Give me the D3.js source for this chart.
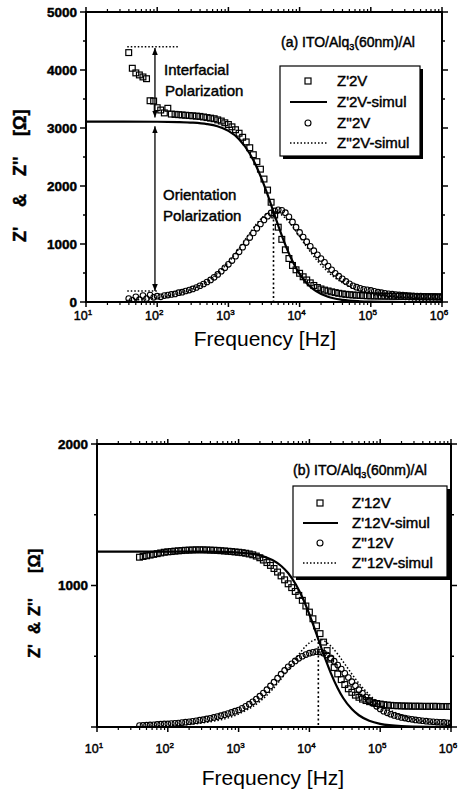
<!DOCTYPE html>
<html>
<head>
<meta charset="utf-8">
<script src="https://cdn.jsdelivr.net/npm/d3@7"></script>
<style>
body { margin: 0; background: #fff; }
svg text { font-family: "Liberation Sans", Arial, Helvetica, sans-serif; fill: #000; }
.thick { stroke: #000; stroke-width: 0.45px; }
</style>
</head>
<body>
<script>
// measured frequency grid (Hz), shared by both panels
var freqMeas = [39.8, 44.7, 50.1, 56.2, 63.1, 70.8, 79.4, 89.1,
  100, 112, 126, 141, 158, 178, 200, 224, 251, 282, 316, 355, 398, 447, 501, 562, 631, 708, 794, 891,
  1000, 1122, 1259, 1413, 1585, 1778, 1995, 2239, 2512, 2818, 3162, 3548, 3981, 4467, 5012, 5623, 6310, 7079, 7943, 8913,
  1e4, 11220, 12589, 14125, 15849, 17783, 19953, 22387, 25119, 28184, 31623, 35481, 39811, 44668, 50119, 56234, 63096, 70795, 79433, 89125,
  1.00e5, 1.12e5, 1.26e5, 1.41e5, 1.58e5, 1.78e5, 2.00e5, 2.24e5, 2.51e5, 2.82e5, 3.16e5, 3.55e5, 3.98e5, 4.47e5, 5.01e5, 5.62e5, 6.31e5, 7.08e5, 7.94e5, 8.91e5, 1e6];

// panel (a) 2V measured
var zReA = [4300, 4030, 3950, 3915, 3880, 3850, 3470, 3465,
  3350, 3310, 3260, 3340, 3240, 3235, 3230, 3225, 3220, 3215, 3210, 3205, 3200, 3190, 3180, 3170, 3160, 3140, 3120, 3090,
  3060, 3020, 2970, 2910, 2840, 2760, 2660, 2540, 2420, 2290, 2120, 1930, 1720, 1500, 1290, 1080, 900, 750, 630, 555,
  495, 435, 380, 330, 285, 250, 225, 205, 190, 175, 162, 150, 140, 132, 126, 121, 117, 113, 110, 107,
  105, 104, 103, 102, 101, 100, 99, 98, 97, 96, 95, 94, 93, 92, 92, 91, 90, 90, 89, 88, 88];
var zImA = [60, 30, 90, 40, 110, 60, 120, 80,
  100, 90, 110, 120, 130, 140, 160, 170, 190, 205, 225, 250, 280, 310, 345, 380, 425, 475, 530, 590,
  650, 715, 790, 865, 945, 1025, 1110, 1190, 1270, 1345, 1415, 1480, 1535, 1570, 1590, 1580, 1540, 1470, 1380, 1290,
  1200, 1120, 1040, 960, 885, 815, 750, 685, 620, 555, 495, 445, 400, 355, 315, 280, 255, 235, 220, 210,
  200, 185, 170, 160, 150, 142, 135, 128, 122, 118, 115, 110, 106, 103, 100, 97, 95, 93, 91, 90, 88];

// panel (a) simulation
var simFreqReA = [10, 100, 200, 316, 500, 700, 1000, 1400, 2000, 2500, 3000, 3500, 4300, 5000, 6000, 7000, 8500, 1e4, 1.3e4, 1.7e4, 2.5e4, 4e4, 7e4, 1e5, 2e5, 5e5, 1e6];
var simReA = [3110, 3108, 3103, 3093, 3068, 3030, 2950, 2812, 2557, 2324, 2092, 1871, 1555, 1322, 1055, 852, 634, 485, 307, 187, 89, 36, 12, 6, 2, 0, 0];
var simFreqImA = [38, 60, 100, 150, 200, 300, 500, 700, 1000, 1400, 2000, 2500, 3000, 3500, 4300, 5000, 6000, 7000, 8500, 1e4, 1.3e4, 1.7e4, 2.5e4, 4e4, 7e4, 1e5, 2e5, 5e5, 1e6];
var simImA = [27, 43, 72, 108, 144, 216, 357, 493, 686, 915, 1189, 1351, 1460, 1523, 1555, 1538, 1472, 1387, 1253, 1129, 927, 739, 520, 331, 190, 133, 67, 27, 13];

// panel (b) 12V measured
var zReB = [1200, 1205, 1210, 1215, 1220, 1225, 1230, 1235,
  1238, 1240, 1243, 1245, 1247, 1249, 1250, 1251, 1252, 1252, 1252, 1251, 1250, 1249, 1248, 1246, 1244, 1242, 1240, 1237,
  1235, 1232, 1228, 1223, 1217, 1208, 1196, 1180, 1162, 1142, 1120, 1095, 1068, 1040, 1012, 985, 958, 930, 895, 855,
  812, 765, 715, 660, 600, 540, 480, 420, 375, 335, 300, 270, 245, 225, 210, 197, 187, 179, 172, 166,
  162, 158, 155, 153, 151, 150, 149, 148, 148, 147, 147, 147, 146, 146, 146, 146, 146, 145, 145, 145, 145];
var zImB = [10, 12, 13, 15, 16, 18, 20, 22,
  22, 24, 26, 28, 31, 34, 37, 40, 44, 48, 52, 57, 62, 68, 74, 80, 87, 95, 103, 112,
  120, 132, 146, 161, 178, 197, 218, 240, 264, 290, 317, 345, 373, 400, 425, 447, 467, 485, 500, 512,
  522, 528, 532, 530, 522, 508, 488, 465, 438, 410, 380, 350, 320, 292, 264, 238, 212, 188, 166, 146,
  128, 112, 100, 90, 82, 75, 68, 63, 58, 54, 50, 47, 44, 41, 39, 37, 35, 33, 32, 30, 29];

// panel (b) simulation
var simFreqB = [10, 100, 300, 1000, 2000, 3000, 4000, 5000, 6500, 8000, 10000, 11500, 13370, 15000, 17000, 20000, 25000, 30000, 40000, 50000, 70000, 1e5, 2e5, 5e5, 1e6];
var simReB = [1240, 1240, 1239, 1233, 1213, 1180, 1138, 1088, 1003, 913, 795, 713, 620, 549, 474, 383, 276, 205, 125, 83, 44, 22, 6, 1, 0];
var simFreqImB = [37, 100, 300, 1000, 2000, 3000, 4000, 5000, 6500, 8000, 10000, 11500, 13370, 15000, 17000, 20000, 25000, 30000, 40000, 50000, 70000, 1e5, 2e5, 5e5, 1e6];
var simImB = [3, 9, 28, 92, 181, 265, 341, 407, 488, 546, 595, 613, 620, 616, 602, 573, 516, 461, 373, 309, 229, 163, 83, 33, 17];

// peak markers [freq, value]
var peakA = [4300, 1500];
var peakB = [13370, 600];

// annotations in (a)
var levelTop = [38, 195, 4400];
var levelBottom = [38, 100, 190];
var arrowFreq = 93;
var arrows = [[4380, 3180], [3030, 190]];

var legendA = ["Z'2V", "Z'2V-simul", "Z''2V", "Z''2V-simul"];
var legendB = ["Z'12V", "Z'12V-simul", "Z''12V", "Z''12V-simul"];
var yTicksA = [0, 1000, 2000, 3000, 4000, 5000];
var yTicksB = [1000, 2000];
var xExponents = [1, 2, 3, 4, 5, 6];

var width = 469, height = 794;
var svg = d3.select('body').append('svg')
  .attr('width', width)
  .attr('height', height);

var defs = svg.append('defs');
defs.append('marker')
  .attr('id', 'head')
  .attr('viewBox', '0 0 10 8')
  .attr('refX', 10).attr('refY', 4)
  .attr('markerWidth', 7).attr('markerHeight', 6)
  .attr('markerUnits', 'userSpaceOnUse')
  .attr('orient', 'auto-start-reverse')
  .append('path').attr('d', 'M0,0L10,4L0,8z').attr('fill', '#000');

function pairs(fs, vs) {
  return fs.map(function(f, i) { return [f, vs[i]]; });
}

function drawPanel(p) {
  var g = svg.append('g');
  var x = d3.scaleLog().domain([10, 1e6]).range([p.left, p.right]);
  var y = d3.scaleLinear().domain([0, p.yMax]).range([p.bottom, p.top]);

  var clipId = 'clip' + p.id;
  defs.append('clipPath').attr('id', clipId)
    .append('rect').attr('x', p.left).attr('y', p.top)
    .attr('width', p.right - p.left).attr('height', p.bottom - p.top);

  // ticks, all four sides, pointing out
  var minors = [];
  for (var e = 1; e < 6; e++) for (var m = 2; m < 10; m++) minors.push(m * Math.pow(10, e));
  var majors = xExponents.map(function(d) { return Math.pow(10, d); });
  var ax = g.append('g').attr('stroke', '#000');
  majors.forEach(function(f) {
    ax.append('line').attr('x1', x(f)).attr('x2', x(f)).attr('y1', p.bottom).attr('y2', p.bottom + 5).attr('stroke-width', 1.5);
    ax.append('line').attr('x1', x(f)).attr('x2', x(f)).attr('y1', p.top).attr('y2', p.top - 5).attr('stroke-width', 1.5);
  });
  minors.forEach(function(f) {
    ax.append('line').attr('x1', x(f)).attr('x2', x(f)).attr('y1', p.bottom).attr('y2', p.bottom + 3).attr('stroke-width', 1.2);
    ax.append('line').attr('x1', x(f)).attr('x2', x(f)).attr('y1', p.top).attr('y2', p.top - 3).attr('stroke-width', 1.2);
  });
  d3.range(0, p.yMax + 1, 500).forEach(function(v) {
    var len = v % 1000 === 0 ? 6 : 3;
    ax.append('line').attr('x1', p.left).attr('x2', p.left - len).attr('y1', y(v)).attr('y2', y(v)).attr('stroke-width', 1.5);
    ax.append('line').attr('x1', p.right).attr('x2', p.right + len).attr('y1', y(v)).attr('y2', y(v)).attr('stroke-width', 1.5);
  });

  // tick labels
  xExponents.forEach(function(d) {
    var t = g.append('text').attr('class', 'thick')
      .attr('x', x(Math.pow(10, d)) - 3).attr('y', p.xLabelY)
      .attr('text-anchor', 'middle').attr('font-size', 12.5).text('10');
    t.append('tspan').attr('dy', -5).attr('font-size', 8).text(d);
  });
  p.yTicks.forEach(function(v) {
    g.append('text').attr('class', 'thick')
      .attr('x', p.left - 9).attr('y', y(v)).attr('dy', '0.36em')
      .attr('text-anchor', 'end').attr('font-size', 13.5).attr('font-weight', 'bold').text(v);
  });

  // axis titles
  g.append('text')
    .attr('x', p.titleX).attr('y', p.titleY)
    .attr('text-anchor', 'middle').attr('font-size', 21)
    .text('Frequency [Hz]');
  var yl = g.append('text').attr('class', 'thick')
    .attr('transform', 'rotate(-90)')
    .attr('y', p.yTitleX).attr('font-size', p.yTitleSize).attr('font-weight', 'bold');
  var parts = ["Z'", '&', "Z''", '[\u03a9]'];
  parts.forEach(function(s, i) {
    yl.append('tspan').attr('x', -p.yTitlePos[i]).text(s);
  });

  // data
  var plot = g.append('g').attr('clip-path', 'url(#' + clipId + ')');
  var line = d3.line()
    .x(function(d) { return x(d[0]); })
    .y(function(d) { return y(d[1]); })
    .curve(d3.curveMonotoneX);

  plot.selectAll('rect.sq').data(pairs(freqMeas, p.re)).enter().append('rect')
    .attr('x', function(d) { return x(d[0]) - 2.9; })
    .attr('y', function(d) { return y(d[1]) - 2.9; })
    .attr('width', 5.8).attr('height', 5.8)
    .attr('fill', 'none').attr('stroke', '#000').attr('stroke-width', 1.2);
  plot.selectAll('circle.ci').data(pairs(freqMeas, p.im)).enter().append('circle')
    .attr('cx', function(d) { return x(d[0]); })
    .attr('cy', function(d) { return y(d[1]); })
    .attr('r', 2.8)
    .attr('fill', 'none').attr('stroke', '#000').attr('stroke-width', 1.1);

  plot.append('path').datum(pairs(p.simFreqRe, p.simRe))
    .attr('d', line).attr('fill', 'none').attr('stroke', '#000').attr('stroke-width', 2.2);
  plot.append('path').datum(pairs(p.simFreqIm, p.simIm))
    .attr('d', line).attr('fill', 'none').attr('stroke', '#000').attr('stroke-width', 1.5)
    .attr('stroke-dasharray', '1.5,2');

  // dotted drop line at the peak
  plot.append('line')
    .attr('x1', x(p.peak[0])).attr('x2', x(p.peak[0]))
    .attr('y1', y(p.peak[1])).attr('y2', y(0))
    .attr('stroke', '#000').attr('stroke-width', 1.6).attr('stroke-dasharray', '2,2.5');

  // frame
  g.append('rect')
    .attr('x', p.left).attr('y', p.top)
    .attr('width', p.right - p.left).attr('height', p.bottom - p.top)
    .attr('fill', 'none').attr('stroke', '#000').attr('stroke-width', 2);

  // sample label with subscript
  var st = g.append('text').attr('class', 'thick')
    .attr('x', p.sampleX).attr('y', p.sampleY).attr('font-size', 14);
  st.append('tspan').text(p.tag + ' ITO/Alq');
  st.append('tspan').attr('dy', 3).attr('font-size', 9).text('3');
  st.append('tspan').attr('dy', -3).text('(60nm)/Al');

  // legend
  var lg = g.append('g');
  lg.append('rect').attr('x', p.lg.x + 3).attr('y', p.lg.y + 3)
    .attr('width', p.lg.w).attr('height', p.lg.h).attr('fill', '#000');
  lg.append('rect').attr('x', p.lg.x).attr('y', p.lg.y)
    .attr('width', p.lg.w).attr('height', p.lg.h)
    .attr('fill', '#fff').attr('stroke', '#000').attr('stroke-width', 1.2);
  p.legend.forEach(function(name, i) {
    var cy = p.lg.rows[i];
    if (i === 0) {
      lg.append('rect').attr('x', p.lg.sym - 3).attr('y', cy - 3).attr('width', 6).attr('height', 6)
        .attr('fill', 'none').attr('stroke', '#000').attr('stroke-width', 1.2);
    } else if (i === 2) {
      lg.append('circle').attr('cx', p.lg.sym).attr('cy', cy).attr('r', 3)
        .attr('fill', 'none').attr('stroke', '#000').attr('stroke-width', 1.1);
    } else {
      lg.append('line').attr('x1', p.lg.l0).attr('x2', p.lg.l1).attr('y1', cy).attr('y2', cy)
        .attr('stroke', '#000').attr('stroke-width', i === 1 ? 2.2 : 1.5)
        .attr('stroke-dasharray', i === 1 ? null : '1.5,2');
    }
    lg.append('text').attr('class', 'thick')
      .attr('x', p.lg.tx).attr('y', cy).attr('dy', '0.36em')
      .attr('font-size', 15).text(name);
  });

  return { g: g, x: x, y: y };
}

var a = drawPanel({
  id: 'a', left: 86, right: 442, top: 12, bottom: 302, yMax: 5000,
  yTicks: yTicksA, xLabelY: 320, titleX: 265, titleY: 346,
  yTitleX: 26, yTitleSize: 18, yTitlePos: [242, 207, 176, 136],
  re: zReA, im: zImA, simFreqRe: simFreqReA, simRe: simReA, simFreqIm: simFreqImA, simIm: simImA,
  peak: peakA, tag: '(a)', sampleX: 281, sampleY: 47,
  legend: legendA,
  lg: { x: 280, y: 66, w: 140, h: 90, sym: 308, l0: 290, l1: 327, tx: 337, rows: [81, 102, 123, 143] }
});

var b = drawPanel({
  id: 'b', left: 97, right: 451, top: 444, bottom: 727, yMax: 2000,
  yTicks: yTicksB, xLabelY: 753, titleX: 273, titleY: 785,
  yTitleX: 40, yTitleSize: 16.5, yTitlePos: [658, 634, 616, 573],
  re: zReB, im: zImB, simFreqRe: simFreqB, simRe: simReB, simFreqIm: simFreqImB, simIm: simImB,
  peak: peakB, tag: '(b)', sampleX: 293, sampleY: 475,
  legend: legendB,
  lg: { x: 293, y: 486, w: 154, h: 91, sym: 320, l0: 303, l1: 338, tx: 352, rows: [503, 523, 543, 563] }
});

// annotations for panel (a)
var an = a.g.append('g').attr('stroke', '#000');
an.append('line')
  .attr('x1', a.x(levelTop[0])).attr('x2', a.x(levelTop[1]))
  .attr('y1', a.y(levelTop[2])).attr('y2', a.y(levelTop[2]))
  .attr('stroke-width', 1.6).attr('stroke-dasharray', '1.5,2');
an.append('line')
  .attr('x1', a.x(levelBottom[0])).attr('x2', a.x(levelBottom[1]))
  .attr('y1', a.y(levelBottom[2])).attr('y2', a.y(levelBottom[2]))
  .attr('stroke-width', 1.6).attr('stroke-dasharray', '1.5,2');
arrows.forEach(function(r) {
  an.append('line')
    .attr('x1', a.x(arrowFreq)).attr('x2', a.x(arrowFreq))
    .attr('y1', a.y(r[0])).attr('y2', a.y(r[1]))
    .attr('stroke-width', 1.3)
    .attr('marker-start', 'url(#head)').attr('marker-end', 'url(#head)');
});
var notes = [['Interfacial', 164, 75], ['Polarization', 165, 96], ['Orientation', 163, 200], ['Polarization', 163, 221]];
notes.forEach(function(n) {
  a.g.append('text').attr('class', 'thick')
    .attr('x', n[1]).attr('y', n[2]).attr('font-size', 15).text(n[0]);
});
</script>
</body>
</html>
